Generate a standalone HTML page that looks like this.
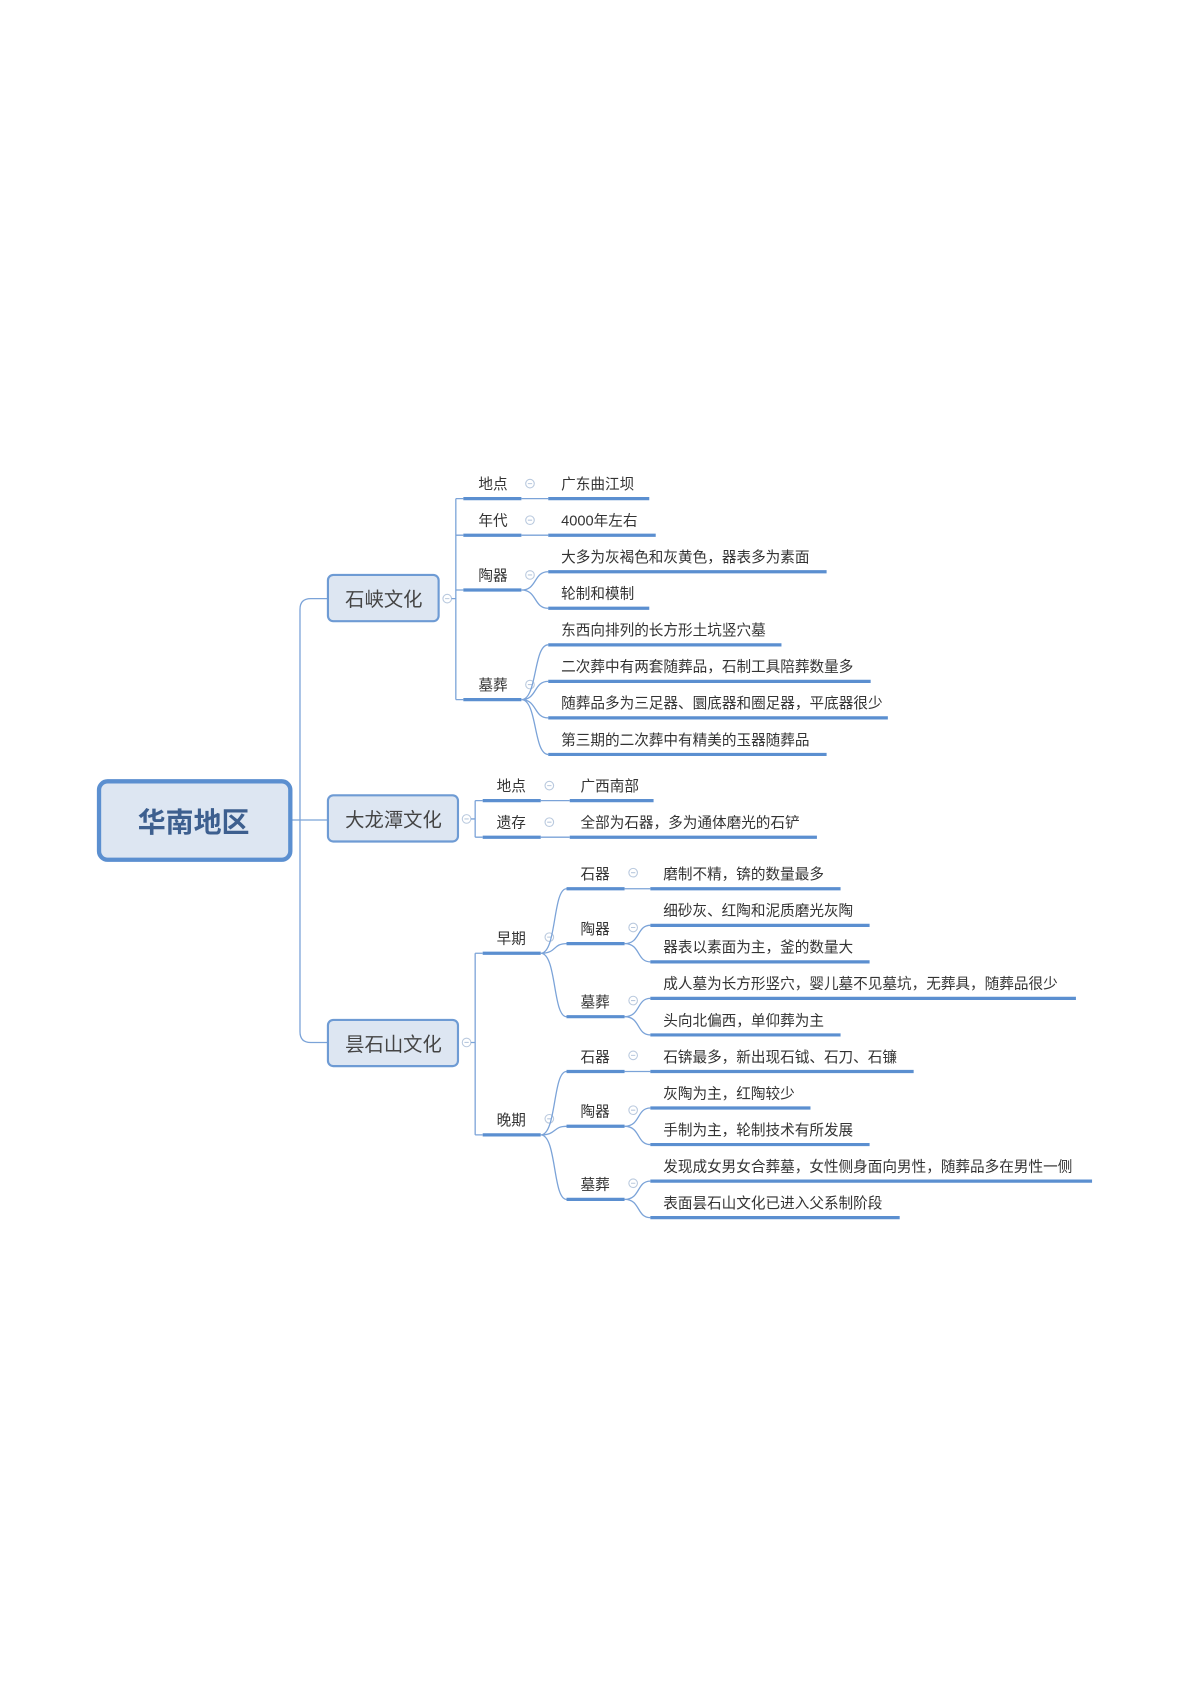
<!DOCTYPE html>
<html><head><meta charset="utf-8"><style>
html,body{margin:0;padding:0;background:#fff;}
svg{display:block;}
text{font-family:"Liberation Sans","Noto Sans CJK SC",sans-serif;fill:#333;font-size:13.6px;}
.t{font-size:18px;fill:#444;text-anchor:middle;}
.c{fill:none;stroke:#7ba3d8;stroke-width:1.2;}
.u{stroke:#5b8fd0;stroke-width:3;}
.ci{fill:#fff;stroke:#b9c9de;stroke-width:1;}
</style></head><body>
<svg width="1190" height="1683" viewBox="0 0 1107 1566" xmlns="http://www.w3.org/2000/svg">
<path class="c" d="M270,763 H305 M305,557 H289 Q279,557 279,567 V960 Q279,970 289,970 H305"/>
<rect x="92" y="727" width="178" height="73" rx="8" fill="#dde6f2" stroke="#5b8fd0" stroke-width="4"/>
<text x="180" y="774" style="font-size:26px;font-weight:bold;fill:#3d5f8f;text-anchor:middle">华南地区</text>
<rect x="305" y="535" width="103" height="43" rx="5" fill="#dde6f2" stroke="#6e9bd4" stroke-width="2"/>
<text class="t" x="357" y="564">石峡文化</text>
<rect x="305" y="740" width="121" height="43" rx="5" fill="#dde6f2" stroke="#6e9bd4" stroke-width="2"/>
<text class="t" x="366" y="769">大龙潭文化</text>
<rect x="305" y="949" width="121" height="43" rx="5" fill="#dde6f2" stroke="#6e9bd4" stroke-width="2"/>
<text class="t" x="366" y="978">昙石山文化</text>
<g id="cir">
<circle class="ci" cx="416" cy="557" r="4"/><circle class="ci" cx="434" cy="762" r="4"/><circle class="ci" cx="434" cy="970" r="4"/>
<circle class="ci" cx="493" cy="450" r="4"/><circle class="ci" cx="493" cy="484" r="4"/><circle class="ci" cx="493" cy="535" r="4"/><circle class="ci" cx="493" cy="637" r="4"/>
<circle class="ci" cx="511" cy="731" r="4"/><circle class="ci" cx="511" cy="765" r="4"/>
<circle class="ci" cx="511" cy="872" r="4"/><circle class="ci" cx="511" cy="1041" r="4"/>
<circle class="ci" cx="589" cy="812" r="4"/><circle class="ci" cx="589" cy="863" r="4"/><circle class="ci" cx="589" cy="931" r="4"/><circle class="ci" cx="589" cy="982" r="4"/><circle class="ci" cx="589" cy="1033" r="4"/><circle class="ci" cx="589" cy="1101" r="4"/>
</g>
<path stroke="#b9c9de" stroke-width="1" d="M414,557h4 M432,762h4 M432,970h4 M491,450h4 M491,484h4 M491,535h4 M491,637h4 M509,731h4 M509,765h4 M509,872h4 M509,1041h4 M587,812h4 M587,863h4 M587,931h4 M587,982h4 M587,1033h4 M587,1101h4"/>

<path class="c" d="M420,557 H424 M424,464 V651 M424,464 H431 M424,498 H431 M424,549 H431 M424,651 H431"/>
<g class="u"><line x1="431" y1="464" x2="485" y2="464"/><line x1="431" y1="498" x2="485" y2="498"/><line x1="431" y1="549" x2="485" y2="549"/><line x1="431" y1="651" x2="485" y2="651"/></g>
<text x="445" y="455">地点</text><text x="445" y="489">年代</text><text x="445" y="540">陶器</text><text x="445" y="642">墓葬</text>
<path class="c" d="M485,464 H510 M485,498 H510 M485,549 C500,549 496,532 510,532 M485,549 C500,549 496,566 510,566 M485,651 C500,651 496,600 510,600 M485,651 C500,651 496,634 510,634 M485,651 C500,651 496,668 510,668 M485,651 C500,651 496,702 510,702"/>
<g class="u"><line x1="510" y1="464" x2="604" y2="464"/><line x1="510" y1="498" x2="610" y2="498"/><line x1="510" y1="532" x2="769" y2="532"/><line x1="510" y1="566" x2="604" y2="566"/><line x1="510" y1="600" x2="727" y2="600"/><line x1="510" y1="634" x2="810" y2="634"/><line x1="510" y1="668" x2="826" y2="668"/><line x1="510" y1="702" x2="769" y2="702"/></g>
<text x="522" y="455">广东曲江坝</text><text x="522" y="489">4000年左右</text><text x="522" y="523">大多为灰褐色和灰黄色，器表多为素面</text><text x="522" y="557">轮制和模制</text><text x="522" y="591">东西向排列的长方形土坑竖穴墓</text><text x="522" y="625">二次葬中有两套随葬品，石制工具陪葬数量多</text><text x="522" y="659">随葬品多为三足器、圜底器和圈足器，平底器很少</text><text x="522" y="693">第三期的二次葬中有精美的玉器随葬品</text>

<path class="c" d="M438,762 H442 M442,745 V779 M442,745 H449 M442,779 H449 M503,745 H530 M503,779 H530"/>
<g class="u"><line x1="449" y1="745" x2="503" y2="745"/><line x1="449" y1="779" x2="503" y2="779"/><line x1="530" y1="745" x2="608" y2="745"/><line x1="530" y1="779" x2="760" y2="779"/></g>
<text x="462" y="736">地点</text><text x="462" y="770">遗存</text>
<text x="540" y="736">广西南部</text><text x="540" y="770">全部为石器，多为通体磨光的石铲</text>

<path class="c" d="M438,970 H442 M442,887 V1056 M442,887 H449 M442,1056 H449"/>
<g class="u"><line x1="449" y1="887" x2="503" y2="887"/><line x1="449" y1="1056" x2="503" y2="1056"/></g>
<text x="462" y="878">早期</text><text x="462" y="1047">晚期</text>
<path class="c" d="M503,887 C518,887 514,827 527,827 M503,887 C518,887 514,878 527,878 M503,887 C518,887 514,946 527,946 M503,1056 C518,1056 514,997 527,997 M503,1056 C518,1056 514,1048 527,1048 M503,1056 C518,1056 514,1116 527,1116"/>
<g class="u"><line x1="527" y1="827" x2="581" y2="827"/><line x1="527" y1="878" x2="581" y2="878"/><line x1="527" y1="946" x2="581" y2="946"/><line x1="527" y1="997" x2="581" y2="997"/><line x1="527" y1="1048" x2="581" y2="1048"/><line x1="527" y1="1116" x2="581" y2="1116"/></g>
<text x="540" y="818">石器</text><text x="540" y="869">陶器</text><text x="540" y="937">墓葬</text><text x="540" y="988">石器</text><text x="540" y="1039">陶器</text><text x="540" y="1107">墓葬</text>
<path class="c" d="M581,827 H605 M581,878 C596,878 592,861 605,861 M581,878 C596,878 592,895 605,895 M581,946 C596,946 592,929 605,929 M581,946 C596,946 592,963 605,963 M581,997 H605 M581,1048 C596,1048 592,1031 605,1031 M581,1048 C596,1048 592,1065 605,1065 M581,1116 C596,1116 592,1099 605,1099 M581,1116 C596,1116 592,1133 605,1133"/>
<g class="u"><line x1="605" y1="827" x2="782" y2="827"/><line x1="605" y1="861" x2="809" y2="861"/><line x1="605" y1="895" x2="809" y2="895"/><line x1="605" y1="929" x2="1001" y2="929"/><line x1="605" y1="963" x2="782" y2="963"/><line x1="605" y1="997" x2="850" y2="997"/><line x1="605" y1="1031" x2="754" y2="1031"/><line x1="605" y1="1065" x2="809" y2="1065"/><line x1="605" y1="1099" x2="1016" y2="1099"/><line x1="605" y1="1133" x2="837" y2="1133"/></g>
<text x="617" y="818">磨制不精，锛的数量最多</text>
<text x="617" y="852">细砂灰、红陶和泥质磨光灰陶</text>
<text x="617" y="886">器表以素面为主，釜的数量大</text>
<text x="617" y="920">成人墓为长方形竖穴，婴儿墓不见墓坑，无葬具，随葬品很少</text>
<text x="617" y="954">头向北偏西，单仰葬为主</text>
<text x="617" y="988">石锛最多，新出现石钺、石刀、石镰</text>
<text x="617" y="1022">灰陶为主，红陶较少</text>
<text x="617" y="1056">手制为主，轮制技术有所发展</text>
<text x="617" y="1090">发现成女男女合葬墓，女性侧身面向男性，随葬品多在男性一侧</text>
<text x="617" y="1124">表面昙石山文化已进入父系制阶段</text>
</svg>
</body></html>
